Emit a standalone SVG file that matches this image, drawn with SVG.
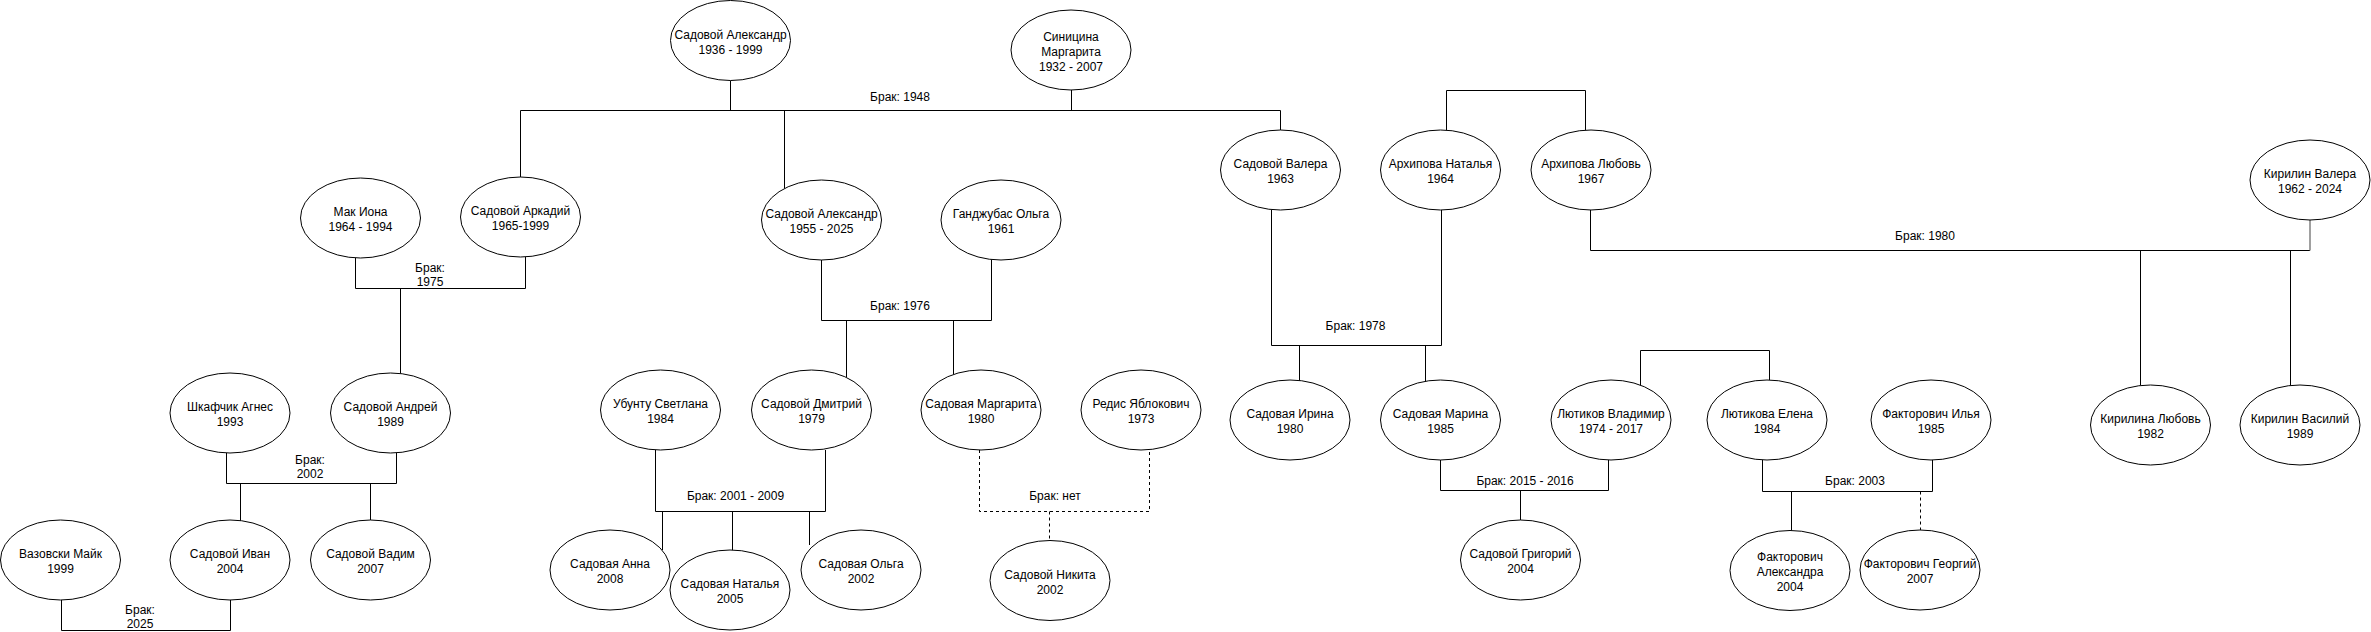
<svg xmlns="http://www.w3.org/2000/svg" width="2371" height="632" viewBox="0 0 2371 632">
<style>
.n{fill:#fff;stroke:#000;stroke-width:1}
.t{font-family:"Liberation Sans",Arial,sans-serif;font-size:12px;fill:#000;text-anchor:middle}
.c{fill:none;stroke:#000;stroke-width:1}
.d{fill:none;stroke:#000;stroke-width:1;stroke-dasharray:3 3}
.g{fill:none;stroke:#808080;stroke-width:1.5}
</style>
<rect width="2371" height="632" fill="#fff"/>
<g id="connectors">
<path class="c" d="M730.5,80.5 V110.5 M1071.5,90 V110.5 M520.5,110.5 H1280.5 M520.5,110.5 V177 M784.5,110.5 V189 M1280.5,110.5 V130"/>
<path class="c" d="M355.5,258 V288.5 H525.5 V257 M400.5,288.5 V373.5"/>
<path class="c" d="M821.5,260 V320.5 H991.5 V259.5 M846.5,320.5 V377 M953.5,320.5 V374.5"/>
<path class="c" d="M1271.5,210 V345.5 H1441.5 V210 M1299.5,345.5 V381 M1425.5,345.5 V382"/>
<path class="c" d="M1446.5,130 V90.5 H1585.5 V130"/>
<path class="c" d="M1590.5,210 V250.5 H2310 M2140.5,250.5 V385 M2290.5,250.5 V385.5"/>
<path class="g" d="M2310,220 V250.5"/>
<path class="c" d="M226.5,453 V483.5 H396.5 V453 M240.5,483.5 V521 M370.5,483.5 V520"/>
<path class="c" d="M61.5,600 V630.5 H230.5 V600"/>
<path class="c" d="M655.5,450 V511.5 H825.5 V450 M662.5,511.5 V550 M732.5,511.5 V550.5 M809.5,511.5 V545"/>
<path class="d" d="M979.5,450 V511.5 H1149.5 V450 M1049.5,511.5 V540.5"/>
<path class="c" d="M1440.5,460 V490.5 H1608.5 V460 M1520.5,490.5 V520"/>
<path class="c" d="M1640.5,385 V350.5 H1769.5 V380"/>
<path class="c" d="M1762.5,460 V491.5 H1932.5 V460 M1791.5,491.5 V530.5"/>
<path class="d" d="M1920.5,491.5 V530"/>
<text class="t" x="900" y="100.5">Брак: 1948</text>
<text class="t" x="430" y="271.5">Брак:</text>
<text class="t" x="430" y="285.5">1975</text>
<text class="t" x="900" y="310">Брак: 1976</text>
<text class="t" x="1355.5" y="330.3">Брак: 1978</text>
<text class="t" x="1925" y="240.3">Брак: 1980</text>
<text class="t" x="310" y="464.3">Брак:</text>
<text class="t" x="310" y="478.3">2002</text>
<text class="t" x="140" y="613.6">Брак:</text>
<text class="t" x="140" y="628.3">2025</text>
<text class="t" x="735.5" y="500.3">Брак: 2001 - 2009</text>
<text class="t" x="1055" y="500">Брак: нет</text>
<text class="t" x="1525" y="485.3">Брак: 2015 - 2016</text>
<text class="t" x="1855" y="485.3">Брак: 2003</text>
</g>
<g id="n1"><ellipse class="n" cx="730.5" cy="40.5" rx="60" ry="40"/><text class="t" x="730.5" y="38.5">Садовой Александр</text><text class="t" x="730.5" y="53.5">1936 - 1999</text></g>
<g id="n2"><ellipse class="n" cx="1071" cy="50" rx="60" ry="40"/><text class="t" x="1071" y="41">Синицина</text><text class="t" x="1071" y="56">Маргарита</text><text class="t" x="1071" y="71">1932 - 2007</text></g>
<g id="n3"><ellipse class="n" cx="360.5" cy="218" rx="60" ry="40"/><text class="t" x="360.5" y="216">Мак Иона</text><text class="t" x="360.5" y="231">1964 - 1994</text></g>
<g id="n4"><ellipse class="n" cx="520.5" cy="217" rx="60" ry="40"/><text class="t" x="520.5" y="215">Садовой Аркадий</text><text class="t" x="520.5" y="230">1965-1999</text></g>
<g id="n5"><ellipse class="n" cx="821.5" cy="220" rx="60" ry="40"/><text class="t" x="821.5" y="218">Садовой Александр</text><text class="t" x="821.5" y="233">1955 - 2025</text></g>
<g id="n6"><ellipse class="n" cx="1001" cy="220" rx="60" ry="40"/><text class="t" x="1001" y="218">Ганджубас Ольга</text><text class="t" x="1001" y="233">1961</text></g>
<g id="n7"><ellipse class="n" cx="1280.5" cy="170" rx="60" ry="40"/><text class="t" x="1280.5" y="168">Садовой Валера</text><text class="t" x="1280.5" y="183">1963</text></g>
<g id="n8"><ellipse class="n" cx="1440.5" cy="170" rx="60" ry="40"/><text class="t" x="1440.5" y="168">Архипова Наталья</text><text class="t" x="1440.5" y="183">1964</text></g>
<g id="n9"><ellipse class="n" cx="1591" cy="170" rx="60" ry="40"/><text class="t" x="1591" y="168">Архипова Любовь</text><text class="t" x="1591" y="183">1967</text></g>
<g id="n10"><ellipse class="n" cx="2310" cy="180" rx="60" ry="40"/><text class="t" x="2310" y="178">Кирилин Валера</text><text class="t" x="2310" y="193">1962 - 2024</text></g>
<g id="n11"><ellipse class="n" cx="230" cy="413" rx="60" ry="40"/><text class="t" x="230" y="411">Шкафчик Агнес</text><text class="t" x="230" y="426">1993</text></g>
<g id="n12"><ellipse class="n" cx="390.5" cy="413" rx="60" ry="40"/><text class="t" x="390.5" y="411">Садовой Андрей</text><text class="t" x="390.5" y="426">1989</text></g>
<g id="n13"><ellipse class="n" cx="60.5" cy="560" rx="60" ry="40"/><text class="t" x="60.5" y="558">Вазовски Майк</text><text class="t" x="60.5" y="573">1999</text></g>
<g id="n14"><ellipse class="n" cx="230" cy="560" rx="60" ry="40"/><text class="t" x="230" y="558">Садовой Иван</text><text class="t" x="230" y="573">2004</text></g>
<g id="n15"><ellipse class="n" cx="370.5" cy="560" rx="60" ry="40"/><text class="t" x="370.5" y="558">Садовой Вадим</text><text class="t" x="370.5" y="573">2007</text></g>
<g id="n16"><ellipse class="n" cx="660.5" cy="410" rx="60" ry="40"/><text class="t" x="660.5" y="408">Убунту Светлана</text><text class="t" x="660.5" y="423">1984</text></g>
<g id="n17"><ellipse class="n" cx="811.5" cy="410" rx="60" ry="40"/><text class="t" x="811.5" y="408">Садовой Дмитрий</text><text class="t" x="811.5" y="423">1979</text></g>
<g id="n18"><ellipse class="n" cx="981" cy="410" rx="60" ry="40"/><text class="t" x="981" y="408">Садовая Маргарита</text><text class="t" x="981" y="423">1980</text></g>
<g id="n19"><ellipse class="n" cx="1141" cy="410" rx="60" ry="40"/><text class="t" x="1141" y="408">Редис Яблокович</text><text class="t" x="1141" y="423">1973</text></g>
<g id="n20"><ellipse class="n" cx="610" cy="570" rx="60" ry="40"/><text class="t" x="610" y="568">Садовая Анна</text><text class="t" x="610" y="583">2008</text></g>
<g id="n21"><ellipse class="n" cx="730" cy="590" rx="60" ry="40"/><text class="t" x="730" y="588">Садовая Наталья</text><text class="t" x="730" y="603">2005</text></g>
<g id="n22"><ellipse class="n" cx="861" cy="570" rx="60" ry="40"/><text class="t" x="861" y="568">Садовая Ольга</text><text class="t" x="861" y="583">2002</text></g>
<g id="n23"><ellipse class="n" cx="1050" cy="580.5" rx="60" ry="40"/><text class="t" x="1050" y="578.5">Садовой Никита</text><text class="t" x="1050" y="593.5">2002</text></g>
<g id="n24"><ellipse class="n" cx="1290" cy="420" rx="60" ry="40"/><text class="t" x="1290" y="418">Садовая Ирина</text><text class="t" x="1290" y="433">1980</text></g>
<g id="n25"><ellipse class="n" cx="1440.5" cy="420" rx="60" ry="40"/><text class="t" x="1440.5" y="418">Садовая Марина</text><text class="t" x="1440.5" y="433">1985</text></g>
<g id="n26"><ellipse class="n" cx="1611" cy="420" rx="60" ry="40"/><text class="t" x="1611" y="418">Лютиков Владимир</text><text class="t" x="1611" y="433">1974 - 2017</text></g>
<g id="n27"><ellipse class="n" cx="1767" cy="420" rx="60" ry="40"/><text class="t" x="1767" y="418">Лютикова Елена</text><text class="t" x="1767" y="433">1984</text></g>
<g id="n28"><ellipse class="n" cx="1931" cy="420" rx="60" ry="40"/><text class="t" x="1931" y="418">Факторович Илья</text><text class="t" x="1931" y="433">1985</text></g>
<g id="n29"><ellipse class="n" cx="1520.5" cy="560" rx="60" ry="40"/><text class="t" x="1520.5" y="558">Садовой Григорий</text><text class="t" x="1520.5" y="573">2004</text></g>
<g id="n30"><ellipse class="n" cx="1790" cy="570.5" rx="60" ry="40"/><text class="t" x="1790" y="561">Факторович</text><text class="t" x="1790" y="576">Александра</text><text class="t" x="1790" y="591">2004</text></g>
<g id="n31"><ellipse class="n" cx="1920" cy="570" rx="60" ry="40"/><text class="t" x="1920" y="568">Факторович Георгий</text><text class="t" x="1920" y="583">2007</text></g>
<g id="n32"><ellipse class="n" cx="2150.5" cy="425" rx="60" ry="40"/><text class="t" x="2150.5" y="423">Кирилина Любовь</text><text class="t" x="2150.5" y="438">1982</text></g>
<g id="n33"><ellipse class="n" cx="2300" cy="425" rx="60" ry="40"/><text class="t" x="2300" y="423">Кирилин Василий</text><text class="t" x="2300" y="438">1989</text></g>
</svg>
